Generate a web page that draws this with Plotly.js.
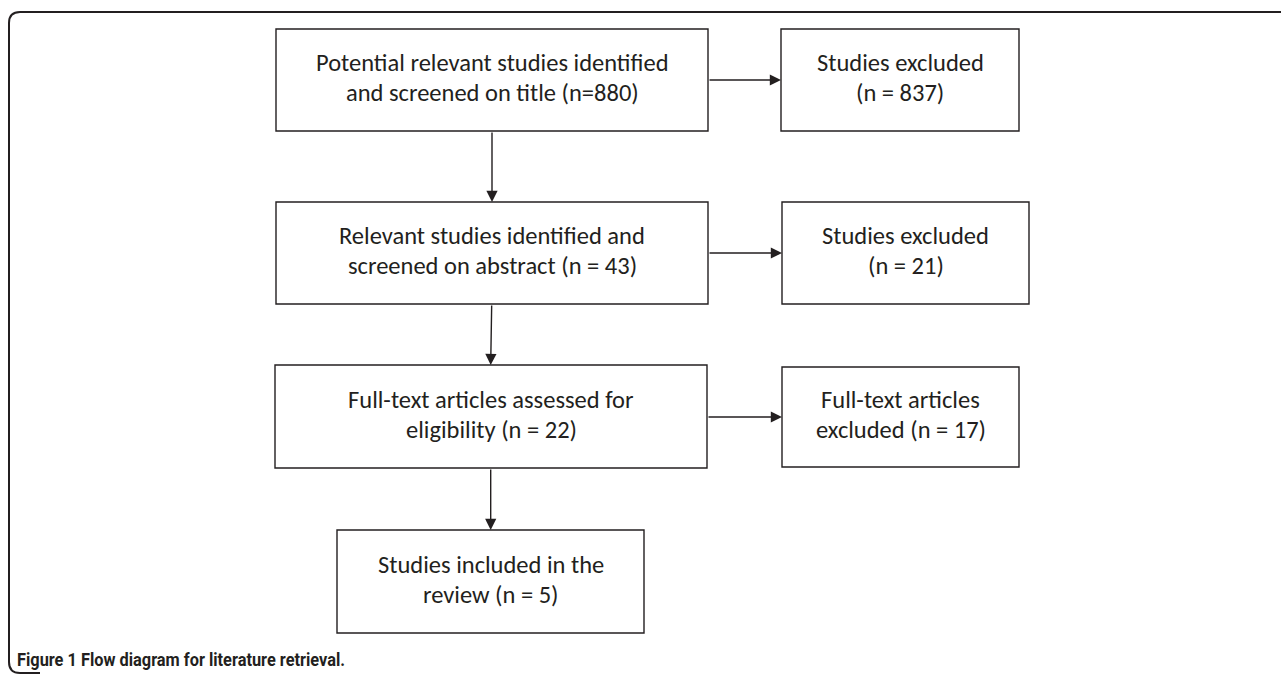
<!DOCTYPE html>
<html>
<head>
<meta charset="utf-8">
<script src="https://cdn.plot.ly/plotly-3.0.1.min.js"></script>
<style>html,body{margin:0;padding:0;background:#fff;}#chart{width:1281px;height:676px;}</style>
</head>
<body>
<div id="chart"></div>
<script>
// ---- data: flow stages (text lines) ----
const stageLines = [
  ["Potential relevant studies identified", "and screened on title (n=880)"],
  ["Relevant studies identified and", "screened on abstract (n = 43)"],
  ["Full-text articles assessed for", "eligibility (n = 22)"],
  ["Studies included in the", "review (n = 5)"]
];
const excludedLines = [
  ["Studies excluded", "(n = 837)"],
  ["Studies excluded", "(n = 21)"],
  ["Full-text articles", "excluded (n = 17)"]
];
const captionBold = "Figure 1";
const captionText = "Flow diagram for literature retrieval.";

// ---- geometry (pixel-like data units) ----
const stageBoxes = [
  {x0: 276, x1: 708, y0: 29, y1: 131},
  {x0: 276, x1: 708, y0: 202, y1: 304},
  {x0: 275, x1: 707, y0: 365, y1: 468},
  {x0: 337, x1: 644, y0: 530, y1: 633}
];
const exclBoxes = [
  {x0: 781, x1: 1019, y0: 29, y1: 131},
  {x0: 782, x1: 1029, y0: 202, y1: 304},
  {x0: 782, x1: 1019, y0: 367, y1: 467}
];
const downArrowX = [[492, 492], [491.7, 490.7], [490.7, 490.7]];
const sideArrowY = [80, 253, 417];

const ink = '#231f20';
const boxFont = {family: 'Carlito, Lato, sans-serif', size: 24.5, color: ink};
const lineGap = 30;
const textShift = -2;

const shapes = [];
const annotations = [];

function addBox(b, lines) {
  shapes.push({type: 'rect', xref: 'x', yref: 'y', x0: b.x0, x1: b.x1, y0: b.y0, y1: b.y1,
    line: {color: ink, width: 1.4}, fillcolor: 'rgba(0,0,0,0)'});
  const cx = (b.x0 + b.x1) / 2, cy = (b.y0 + b.y1) / 2 + textShift;
  lines.forEach((t, i) => {
    annotations.push({xref: 'x', yref: 'y', x: cx, y: cy + (i - (lines.length - 1) / 2) * lineGap,
      text: t, showarrow: false, font: boxFont, xanchor: 'center', yanchor: 'middle'});
  });
}
stageBoxes.forEach((b, i) => addBox(b, stageLines[i]));
exclBoxes.forEach((b, i) => addBox(b, excludedLines[i]));

function addArrow(xt, yt, xh, yh) {
  annotations.push({xref: 'x', yref: 'y', axref: 'x', ayref: 'y', x: xh, y: yh, ax: xt, ay: yt,
    text: '', showarrow: true, arrowhead: 2, arrowsize: 1.6, arrowwidth: 1.4, arrowcolor: ink,
    standoff: 0, startstandoff: 0});
}
for (let i = 0; i < 3; i++) {
  addArrow(downArrowX[i][0], stageBoxes[i].y1, downArrowX[i][1], stageBoxes[i + 1].y0);
  addArrow(stageBoxes[i].x1, sideArrowY[i], exclBoxes[i].x0, sideArrowY[i]);
}

// outer frame (top and left edges with rounded corners)
shapes.push({type: 'path', xref: 'x', yref: 'y',
  path: 'M1290,12 L20,12 Q9,12 9,23 L9,662 Q9,673 20,673 L40,673',
  line: {color: ink, width: 2}});

annotations.push({xref: 'x', yref: 'y', x: 15, y: 659, xanchor: 'left', yanchor: 'middle', align: 'left',
  text: '<b>' + captionBold + '</b> ' + captionText, showarrow: false,
  font: {family: 'Roboto, "Noto Sans", sans-serif', size: 18, color: ink, weight: 'bold'}});

const layout = {
  width: 1281, height: 676,
  margin: {l: 0, r: 0, t: 0, b: 0},
  paper_bgcolor: '#ffffff', plot_bgcolor: '#ffffff',
  xaxis: {range: [0, 1281], visible: false, fixedrange: true},
  yaxis: {range: [676, 0], visible: false, fixedrange: true},
  showlegend: false,
  shapes: shapes,
  annotations: annotations
};
Plotly.newPlot('chart', [{x: [], y: [], type: 'scatter', mode: 'markers'}], layout, {displayModeBar: false, staticPlot: true})
  .then(function () {
    // condense the caption horizontally to mimic the narrow caption face
    document.querySelectorAll('#chart .annotation-text').forEach(function (el) {
      if (el.textContent.indexOf(captionBold) === 0) {
        const bb = el.getBBox();
        el.setAttribute('text-anchor', 'start');
        el.setAttribute('x', bb.x);
        el.setAttribute('textLength', 328);
        el.setAttribute('lengthAdjust', 'spacingAndGlyphs');
      }
    });
  });
</script>
</body>
</html>
